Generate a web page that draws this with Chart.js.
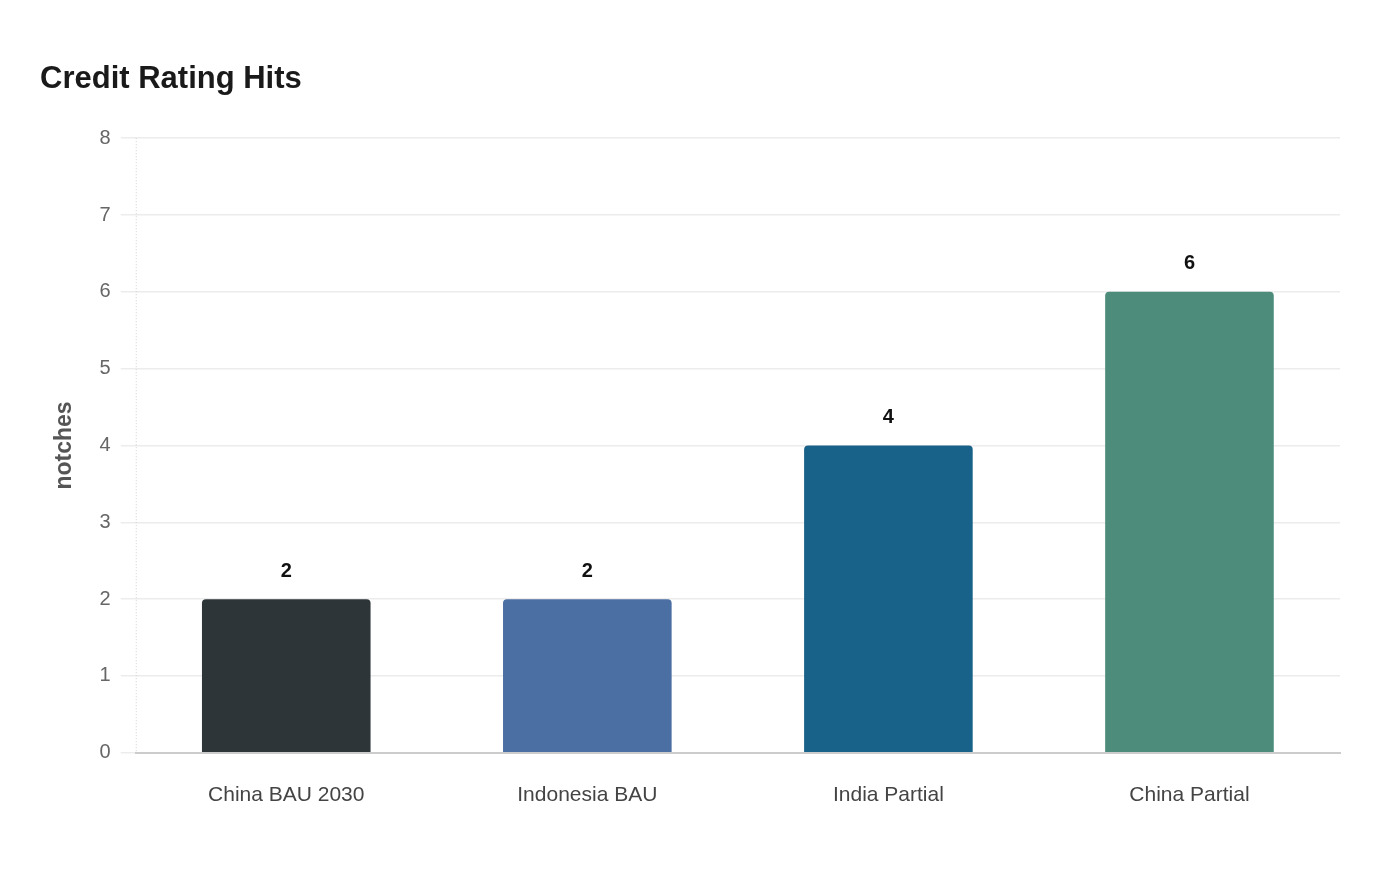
<!DOCTYPE html>
<html>
<head>
<meta charset="utf-8">
<script src="https://cdn.jsdelivr.net/npm/chart.js@4.4.0/dist/chart.umd.min.js"></script>
<style>
  html, body { margin: 0; padding: 0; background: #fff; }
  #wrap { width: 1400px; height: 880px; }
</style>
</head>
<body>
<div id="wrap"><canvas id="chart"></canvas></div>
<script>
const categories = ['China BAU 2030', 'Indonesia BAU', 'India Partial', 'China Partial'];
const notches = [2, 2, 4, 6];
const barColors = ['#2d3538', '#4b6ea3', '#186289', '#4d8c7b'];
const yTicks = [0, 1, 2, 3, 4, 5, 6, 7, 8];

// valeurs au-dessus des barres
const valueLabels = {
    id: 'valueLabels',
    afterDatasetsDraw(chart) {
        const ctx = chart.ctx;
        const meta = chart.getDatasetMeta(0);
        ctx.save();
        ctx.font = 'bold 20px Arial, Helvetica, sans-serif';
        ctx.fillStyle = '#111';
        ctx.textAlign = 'center';
        ctx.textBaseline = 'middle';
        meta.data.forEach((bar, i) => {
            ctx.fillText(String(notches[i]), bar.x, bar.y - 28);
        });
        ctx.restore();
    }
};

// ligne pointillée de l'axe y (border.dash touche aussi la grille en v4)
const dottedYAxis = {
    id: 'dottedYAxis',
    beforeDatasetsDraw(chart) {
        const { ctx, chartArea } = chart;
        ctx.save();
        ctx.strokeStyle = '#d0d0d0';
        ctx.lineWidth = 1;
        ctx.setLineDash([1, 2]);
        ctx.beginPath();
        ctx.moveTo(chartArea.left + 0.5, chartArea.top);
        ctx.lineTo(chartArea.left + 0.5, chartArea.bottom);
        ctx.stroke();
        ctx.restore();
    }
};

Chart.defaults.font.family = 'Arial, Helvetica, sans-serif';

new Chart(document.getElementById('chart'), {
    type: 'bar',
    data: {
        labels: categories,
        datasets: [{
            data: notches,
            backgroundColor: barColors,
            borderRadius: 4,
            borderSkipped: 'bottom',
            barPercentage: 0.56,
            categoryPercentage: 1
        }]
    },
    options: {
        responsive: true,
        maintainAspectRatio: false,
        animation: false,
        layout: { padding: { left: 40, right: 60, top: 0, bottom: 42 } },
        plugins: {
            legend: { display: false },
            tooltip: { enabled: false },
            title: {
                display: true,
                text: 'Credit Rating Hits',
                align: 'start',
                color: '#1a1a1a',
                font: { size: 31, weight: 'bold' },
                padding: { top: 61, bottom: 40 }
            }
        },
        scales: {
            x: {
                grid: { display: false, drawTicks: false },
                border: { display: true, color: '#cccccc', width: 2 },
                ticks: { color: '#444', font: { size: 21 }, padding: 30 }
            },
            y: {
                min: 0,
                max: 8,
                afterBuildTicks(scale) {
                    scale.ticks = yTicks.map(v => ({ value: v }));
                },
                grid: {
                    color: '#ececec',
                    lineWidth: 1.5,
                    tickLength: 15
                },
                border: { display: false },
                ticks: { color: '#666', font: { size: 20 }, padding: 10 },
                title: {
                    display: true,
                    text: 'notches',
                    color: '#555',
                    font: { size: 23, weight: 'bold' },
                    padding: { top: 11, bottom: 11 }
                }
            }
        }
    },
    plugins: [dottedYAxis, valueLabels]
});
</script>
</body>
</html>
